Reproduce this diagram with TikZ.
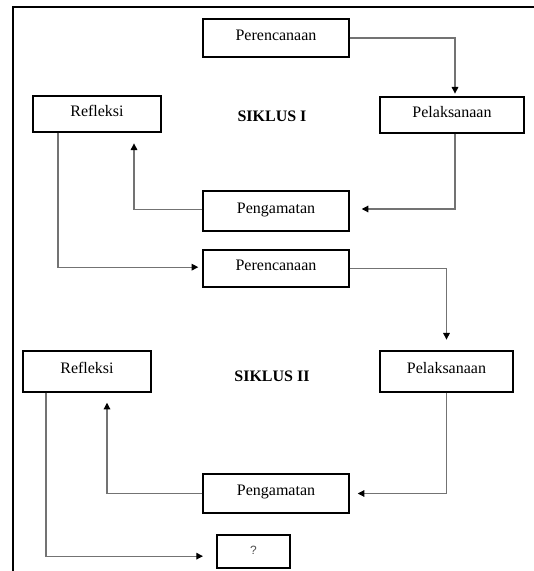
\documentclass[tikz,border=0pt]{standalone}
\usepackage{fontspec}
\setmainfont{Liberation Serif}
\newfontfamily\qfont{Liberation Sans}
\usetikzlibrary{arrows.meta,positioning}

\begin{document}
\begin{tikzpicture}[
  x=0.75pt, y=-0.75pt,
  box/.style={draw, line width=1.1pt, align=center, inner sep=0pt, text height=8.5pt, text depth=5pt, font=\fontsize{12}{14}\selectfont},
  arr/.style={draw=black!55, line width=0.8pt, -{Triangle[length=5pt,width=5pt,color=black]}},
  frame/.style={line width=1.5pt}
]
  \useasboundingbox (0,0) rectangle (534,571);

  % page frame
  \draw[frame] (13,571) -- (13,7) -- (534,7);

  % siklus I
  \node[box, minimum width=109.5pt, minimum height=28.5pt] (plan1) at (276,38) {Perencanaan};
  \node[box, minimum width=96pt, minimum height=27pt] (refl1) at (97,114) {Refleksi};
  \node[box, minimum width=108pt, minimum height=27pt] (act1) at (452,115) {Pelaksanaan};
  \node[box, minimum width=109.5pt, minimum height=30pt] (obs1) at (276,211) {Pengamatan};
  \node[font=\fontsize{12}{14}\selectfont\bfseries] (cyc1) at (272,116) {SIKLUS I};

  % siklus II
  \node[box, minimum width=109.5pt, minimum height=27.75pt] (plan2) at (276,268.5) {Perencanaan};
  \node[box, minimum width=96pt, minimum height=30.75pt] (refl2) at (87,371.5) {Refleksi};
  \node[box, minimum width=99.75pt, minimum height=30.75pt] (act2) at (446.5,371.5) {Pelaksanaan};
  \node[box, minimum width=109.5pt, minimum height=29.25pt] (obs2) at (276,493.5) {Pengamatan};
  \node[font=\fontsize{12}{14}\selectfont\bfseries] (cyc2) at (272,376) {SIKLUS II};

  \node[box, minimum width=54.75pt, minimum height=24.75pt, text height=7pt, text depth=3pt, font=\qfont\fontsize{9}{10}\selectfont\color{black!70}] (next) at (253.5,551.5) {?};

  \draw[arr, shorten >=2pt] (plan1.east) -| ([xshift=2.25pt]act1.north);
  \draw[arr, shorten >=9pt] ([xshift=2.25pt]act1.south) |- ([yshift=1.5pt]obs1.east);
  \draw[arr, shorten >=8pt] ([yshift=1pt]obs1.west) -| ([xshift=27.75pt]refl1.south);
  \draw[arr, shorten >=3pt] ([xshift=-29.25pt]refl1.south) |- ([yshift=1pt]plan2.west);

  \draw[arr, shorten >=8pt] (plan2.east) -| (act2.north);
  \draw[arr, shorten >=6pt] (act2.south) |- (obs2.east);
  \draw[arr, shorten >=7.5pt] (obs2.west) -| ([xshift=15pt]refl2.south);
  \draw[arr, shorten >=10pt] ([xshift=-30.75pt]refl2.south) |- ([yshift=-3.5pt]next.west);
\end{tikzpicture}
\end{document}
